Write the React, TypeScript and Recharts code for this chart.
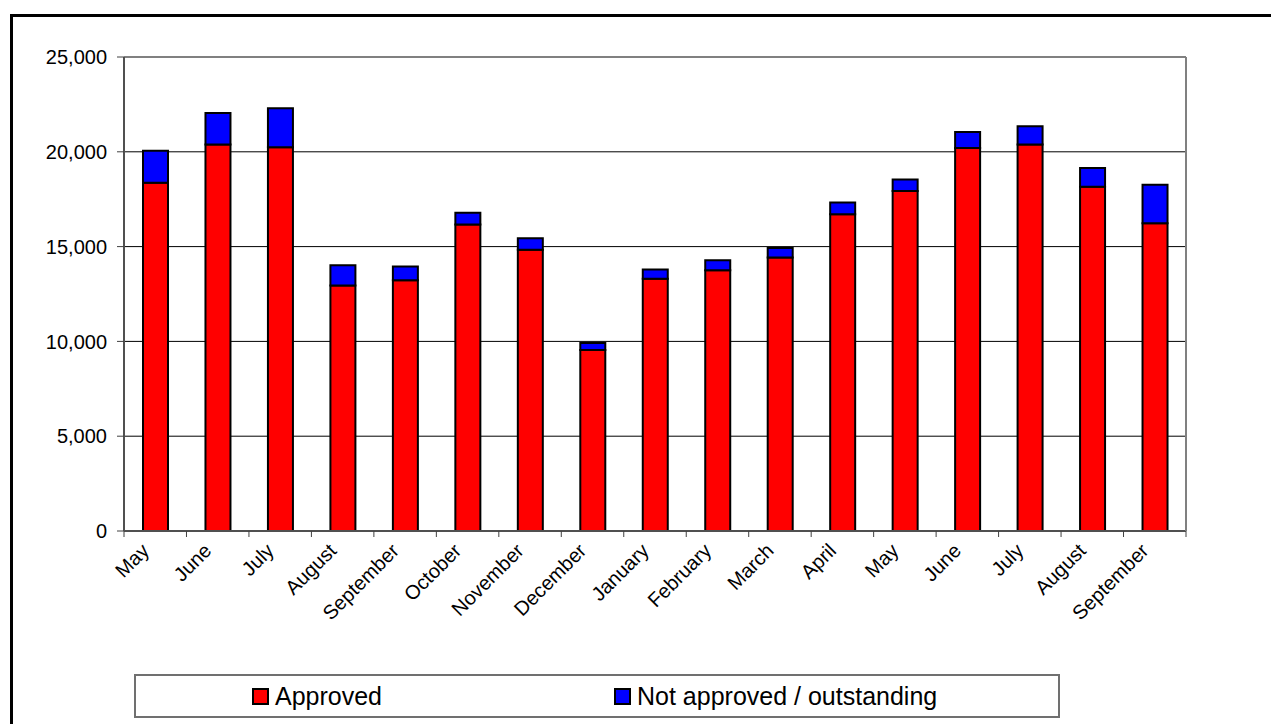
import React from "react";
import {
  BarChart,
  Bar,
  XAxis,
  YAxis,
  CartesianGrid,
  Legend,
  ReferenceLine,
} from "recharts";

const months = [
  "May", "June", "July", "August", "September", "October", "November", "December",
  "January", "February", "March", "April", "May", "June", "July", "August", "September",
];
const approved = [
  18370, 20380, 20240, 12950, 13230, 16170, 14840, 9540,
  13300, 13750, 14420, 16700, 17930, 20200, 20380, 18160, 16230,
];
const notApproved = [
  1690, 1670, 2060, 1070, 720, 620, 600, 370,
  490, 530, 510, 620, 610, 850, 970, 980, 2030,
];
const yTicks = [0, 5000, 10000, 15000, 20000, 25000];
const seriesNames = ["Approved", "Not approved / outstanding"];
const seriesColors = ["#FF0000", "#0000FF"];

const data = months.map((m, i) => ({
  month: m,
  approved: approved[i],
  notApproved: notApproved[i],
}));

const FONT = "'Liberation Sans', Arial, sans-serif";

const XTick = (props: any) => {
  const { x, y, payload, width, visibleTicksCount, index } = props;
  const bw = width / (visibleTicksCount || months.length);
  const isLast = index === (visibleTicksCount || months.length) - 1;
  return (
    <g>
      <line x1={x - bw / 2} x2={x - bw / 2} y1={y} y2={y + 6} stroke="#404040" strokeWidth={1} />
      {isLast && (
        <line x1={x + bw / 2} x2={x + bw / 2} y1={y} y2={y + 6} stroke="#404040" strokeWidth={1} />
      )}
      <g transform={`translate(${x - 5},${y + 21})`}>
        <text
          x={0}
          y={0}
          textAnchor="end"
          transform="rotate(-45)"
          fontSize={20}
          fontFamily={FONT}
          fill="#000"
        >
          {payload.value}
        </text>
      </g>
    </g>
  );
};

const LegendBox = () => (
  <div
    style={{
      boxSizing: "border-box",
      height: 44,
      width: 926,
      border: "2px solid #707070",
      background: "#fff",
      position: "relative",
      fontFamily: FONT,
      fontSize: 25,
      color: "#000",
    }}
  >
    {seriesNames.map((name, i) => (
      <div
        key={name}
        style={{
          position: "absolute",
          left: i === 0 ? 116 : 478,
          top: 0,
          height: 40,
          display: "flex",
          alignItems: "center",
          whiteSpace: "nowrap",
        }}
      >
        <span
          style={{
            display: "inline-block",
            boxSizing: "border-box",
            width: 17,
            height: 17,
            background: seriesColors[i],
            border: "2px solid #000",
            marginRight: 6,
          }}
        />
        <span style={{ lineHeight: "40px" }}>{name}</span>
      </div>
    ))}
  </div>
);

export default function App() {
  return (
    <div style={{ position: "relative", width: 1271, height: 724, background: "#fff" }}>
      <style>{`html,body{margin:0;padding:0;overflow:hidden;background:#fff}`}</style>
      <div
        style={{
          position: "absolute",
          left: 10,
          top: 14,
          width: 1300,
          height: 800,
          borderTop: "3px solid #000",
          borderLeft: "3px solid #000",
          pointerEvents: "none",
        }}
      />
      <div style={{ position: "absolute", left: 0, top: 0 }}>
        <BarChart
          width={1271}
          height={724}
          data={data}
          margin={{ top: 57, right: 84, bottom: 6, left: 0 }}
          barSize={25}
        >
          <CartesianGrid
            vertical={false}
            stroke="#000"
            strokeWidth={1}
            horizontalValues={[5000, 10000, 15000, 20000]}
          />
          <XAxis
            dataKey="month"
            interval={0}
            tickLine={false}
            axisLine={{ stroke: "#505050", strokeWidth: 2 }}
            tickSize={0}
            tickMargin={0}
            height={143}
            tick={<XTick />}
          />
          <YAxis
            width={124}
            domain={[0, 25000]}
            ticks={yTicks}
            interval={0}
            tickSize={7}
            tickMargin={10}
            tick={{ fontSize: 20, fontFamily: FONT, fill: "#000" }}
            tickLine={{ stroke: "#404040", strokeWidth: 1 }}
            axisLine={{ stroke: "#505050", strokeWidth: 2 }}
            tickFormatter={(v: number) => v.toLocaleString("en-US")}
          />
          <YAxis
            yAxisId="right"
            orientation="right"
            width={1}
            domain={[0, 25000]}
            tick={false}
            tickLine={false}
            axisLine={{ stroke: "#808080", strokeWidth: 2 }}
          />
          <ReferenceLine y={25000} stroke="#808080" strokeWidth={2} ifOverflow="visible" />
          <Bar
            dataKey="approved"
            name={seriesNames[0]}
            stackId="a"
            fill={seriesColors[0]}
            stroke="#000"
            strokeWidth={2}
            isAnimationActive={false}
          />
          <Bar
            dataKey="notApproved"
            name={seriesNames[1]}
            stackId="a"
            fill={seriesColors[1]}
            stroke="#000"
            strokeWidth={2}
            isAnimationActive={false}
          />
          <Legend
            verticalAlign="bottom"
            align="left"
            content={<LegendBox />}
            wrapperStyle={{ left: 134, width: 926, height: 44 }}
          />
        </BarChart>
      </div>
    </div>
  );
}
